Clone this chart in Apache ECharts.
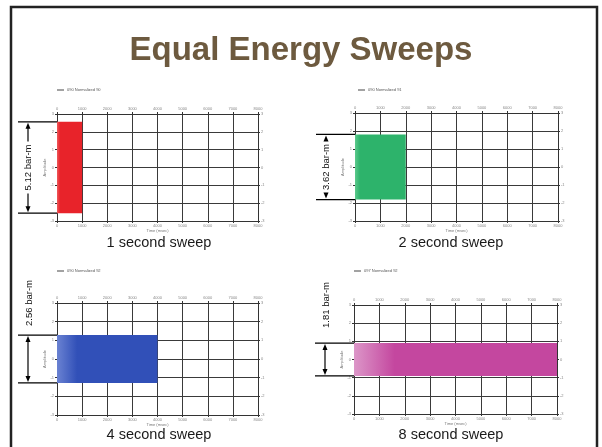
<!DOCTYPE html>
<html><head><meta charset="utf-8">
<script src="https://cdn.jsdelivr.net/npm/echarts@6/dist/echarts.min.js"></script>
<style>html,body{margin:0;padding:0;background:#fff}#c{width:602px;height:447px}</style>
</head><body><div id="c"></div>
<script>
// ---- data ----
const titleText = 'Equal Energy Sweeps';
const sweepDurations = [1000, 2000, 4000, 8000];          // sweep length, msec
const peakToPeak = [5.12, 3.62, 2.56, 1.81];               // bar-m, peak to peak
const captions = ['1 second sweep', '2 second sweep', '4 second sweep', '8 second sweep'];
const legendNames = ['090 Normalized 90', '090 Normalized 91', '090 Normalized 92', '097 Normalized 92'];
const xTickValues = [0, 1000, 2000, 3000, 4000, 5000, 6000, 7000, 8000];
const yTickValues = [-3, -2, -1, 0, 1, 2, 3];
const xAxisName = 'Time (msec)';
const yAxisName = 'Amplitude';
const unitText = 'bar-m';

// ---- layout / style ----
const grids = [
  {left: 57, top: 114, width: 201, height: 107},
  {left: 355, top: 113, width: 203, height: 108},
  {left: 57, top: 303, width: 201, height: 112},
  {left: 354, top: 305, width: 203, height: 109}
];
const bandColors = ['#e8232a', '#2db36b', '#3150b8', '#c4479f'];
const bandLight = ['#ee5a5c', '#5cc98c', '#6a82d2', '#dc96c8'];
const fadeWidth = [0.12, 0.1, 0.2, 0.2];
const labelAbove = [false, false, true, true];
const captionPos = [[159, 243], [451, 243], [159, 435], [451, 435]];
const legendPos = [[57, 88], [358, 88], [57, 269], [354, 269]];
const FONT = '"Liberation Sans", Arial, sans-serif';

const xMin = xTickValues[0], xMax = xTickValues[xTickValues.length - 1];
const yMin = yTickValues[0], yMax = yTickValues[yTickValues.length - 1];
const xInt = xTickValues[1] - xTickValues[0], yInt = yTickValues[1] - yTickValues[0];

const xAxes = [], yAxes = [], series = [], legends = [], graphics = [];

grids.forEach((g, i) => {
  const lab = {fontSize: 4, color: '#888', fontFamily: FONT, formatter: v => String(v)};
  const baseX = {
    gridIndex: i, type: 'value', min: xMin, max: xMax, interval: xInt,
    axisLine: {onZero: false, lineStyle: {color: '#333', width: 1}},
    axisTick: {show: true, length: 2, lineStyle: {color: '#333'}},
    axisLabel: Object.assign({margin: 3}, lab)
  };
  xAxes.push(Object.assign({}, baseX, {
    position: 'bottom',
    splitLine: {show: true, lineStyle: {color: '#3a3a3a', width: 1}},
    name: xAxisName, nameLocation: 'middle', nameGap: 7,
    nameTextStyle: {fontSize: 4, color: '#777', fontFamily: FONT}
  }));
  xAxes.push(Object.assign({}, baseX, {position: 'top', splitLine: {show: false}}));
  const baseY = {
    gridIndex: i, type: 'value', min: yMin, max: yMax, interval: yInt,
    axisLine: {onZero: false, lineStyle: {color: '#333', width: 1}},
    axisTick: {show: true, length: 2, lineStyle: {color: '#333'}},
    axisLabel: Object.assign({margin: 3}, lab)
  };
  yAxes.push(Object.assign({}, baseY, {
    position: 'left',
    splitLine: {show: true, lineStyle: {color: '#3a3a3a', width: 1}},
    name: yAxisName, nameLocation: 'middle', nameGap: 7,
    nameTextStyle: {fontSize: 4, color: '#777', fontFamily: FONT}
  }));
  yAxes.push(Object.assign({}, baseY, {position: 'right', splitLine: {show: false}}));

  const half = peakToPeak[i] / 2;
  // the sweep envelope (dense waveform shown as a filled band)
  series.push({
    type: 'custom', name: legendNames[i],
    xAxisIndex: i * 2, yAxisIndex: i * 2,
    color: bandColors[i],
    data: [[0, sweepDurations[i], -half, half]],
    renderItem: (params, api) => {
      const p0 = api.coord([api.value(0), api.value(3)]);
      const p1 = api.coord([api.value(1), api.value(2)]);
      const w = p1[0] - p0[0];
      return {
        type: 'rect',
        shape: {x: p0[0], y: p0[1], width: w, height: p1[1] - p0[1]},
        style: {
          fill: new echarts.graphic.LinearGradient(0, 0, 1, 0, [
            {offset: 0, color: bandLight[i]},
            {offset: fadeWidth[i], color: bandColors[i]},
            {offset: 1, color: bandColors[i]}
          ])
        }
      };
    }
  });
  // peak-to-peak dimension annotation
  series.push({
    type: 'custom', name: 'dim' + i,
    xAxisIndex: i * 2, yAxisIndex: i * 2,
    clip: false, silent: true,
    data: [[0, half, -half]],
    renderItem: (params, api) => {
      const hi = api.coord([0, api.value(1)]);
      const lo = api.coord([0, api.value(2)]);
      const topY = api.coord([0, yMax])[1];
      const px = hi[0], lx = px - 39, ax = px - 29;
      const st = {stroke: '#000', lineWidth: 1.2};
      const ch = [
        {type: 'line', shape: {x1: lx, y1: hi[1], x2: px, y2: hi[1]}, style: st},
        {type: 'line', shape: {x1: lx, y1: lo[1], x2: px, y2: lo[1]}, style: st},
        {type: 'polygon', shape: {points: [[ax, hi[1] + 1], [ax - 2.5, hi[1] + 7], [ax + 2.5, hi[1] + 7]]}, style: {fill: '#000'}},
        {type: 'polygon', shape: {points: [[ax, lo[1] - 1], [ax - 2.5, lo[1] - 7], [ax + 2.5, lo[1] - 7]]}, style: {fill: '#000'}}
      ];
      const txt = peakToPeak[i].toFixed(2) + ' ' + unitText;
      let cy, cx = ax;
      if (labelAbove[i]) {
        cy = topY;
        cx = ax + 1;
        ch.push({type: 'line', shape: {x1: ax, y1: hi[1] + 6, x2: ax, y2: lo[1] - 6}, style: st});
      } else {
        cy = (hi[1] + lo[1]) / 2;
        const gap = 26;
        if (cy - gap > hi[1] + 7) ch.push({type: 'line', shape: {x1: ax, y1: hi[1] + 6, x2: ax, y2: cy - gap}, style: st});
        if (cy + gap < lo[1] - 7) ch.push({type: 'line', shape: {x1: ax, y1: cy + gap, x2: ax, y2: lo[1] - 6}, style: st});
      }
      ch.push({
        type: 'text', x: cx, y: cy, rotation: Math.PI / 2,
        style: {text: txt, x: 0, y: 0, fill: '#111', font: '9.5px ' + FONT,
                align: 'center', verticalAlign: 'middle', textAlign: 'center', textVerticalAlign: 'middle'}
      });
      return {type: 'group', children: ch};
    }
  });
  legends.push({
    data: [legendNames[i]], left: legendPos[i][0], top: legendPos[i][1],
    icon: 'rect', itemWidth: 7, itemHeight: 1, itemGap: 2, padding: 0,
    itemStyle: {color: '#444'},
    textStyle: {fontSize: 4, color: '#555', fontFamily: FONT, padding: [0, 0, 0, -2]},
    selectedMode: false
  });
  graphics.push({
    type: 'text', x: captionPos[i][0], y: captionPos[i][1],
    style: {text: captions[i], fill: '#1a1a1a', font: '14.5px ' + FONT,
            align: 'center', verticalAlign: 'middle', textAlign: 'center', textVerticalAlign: 'middle'}
  });
});

// slide frame
graphics.unshift({
  type: 'rect', z: -1, silent: true,
  shape: {x: 11, y: 7, width: 586, height: 470},
  style: {fill: '#fff', stroke: '#222', lineWidth: 2.5}
});

const chart = echarts.init(document.getElementById('c'), null, {renderer: 'canvas'});
chart.setOption({
  backgroundColor: '#fff',
  animation: false,
  title: {
    text: titleText, left: 'center', top: 29,
    textStyle: {fontSize: 33, fontWeight: 'bold', color: '#6d5a3f', fontFamily: FONT}
  },
  legend: legends,
  grid: grids.map(g => Object.assign({containLabel: false}, g)),
  xAxis: xAxes,
  yAxis: yAxes,
  graphic: graphics,
  series: series
});
</script>
</body></html>
